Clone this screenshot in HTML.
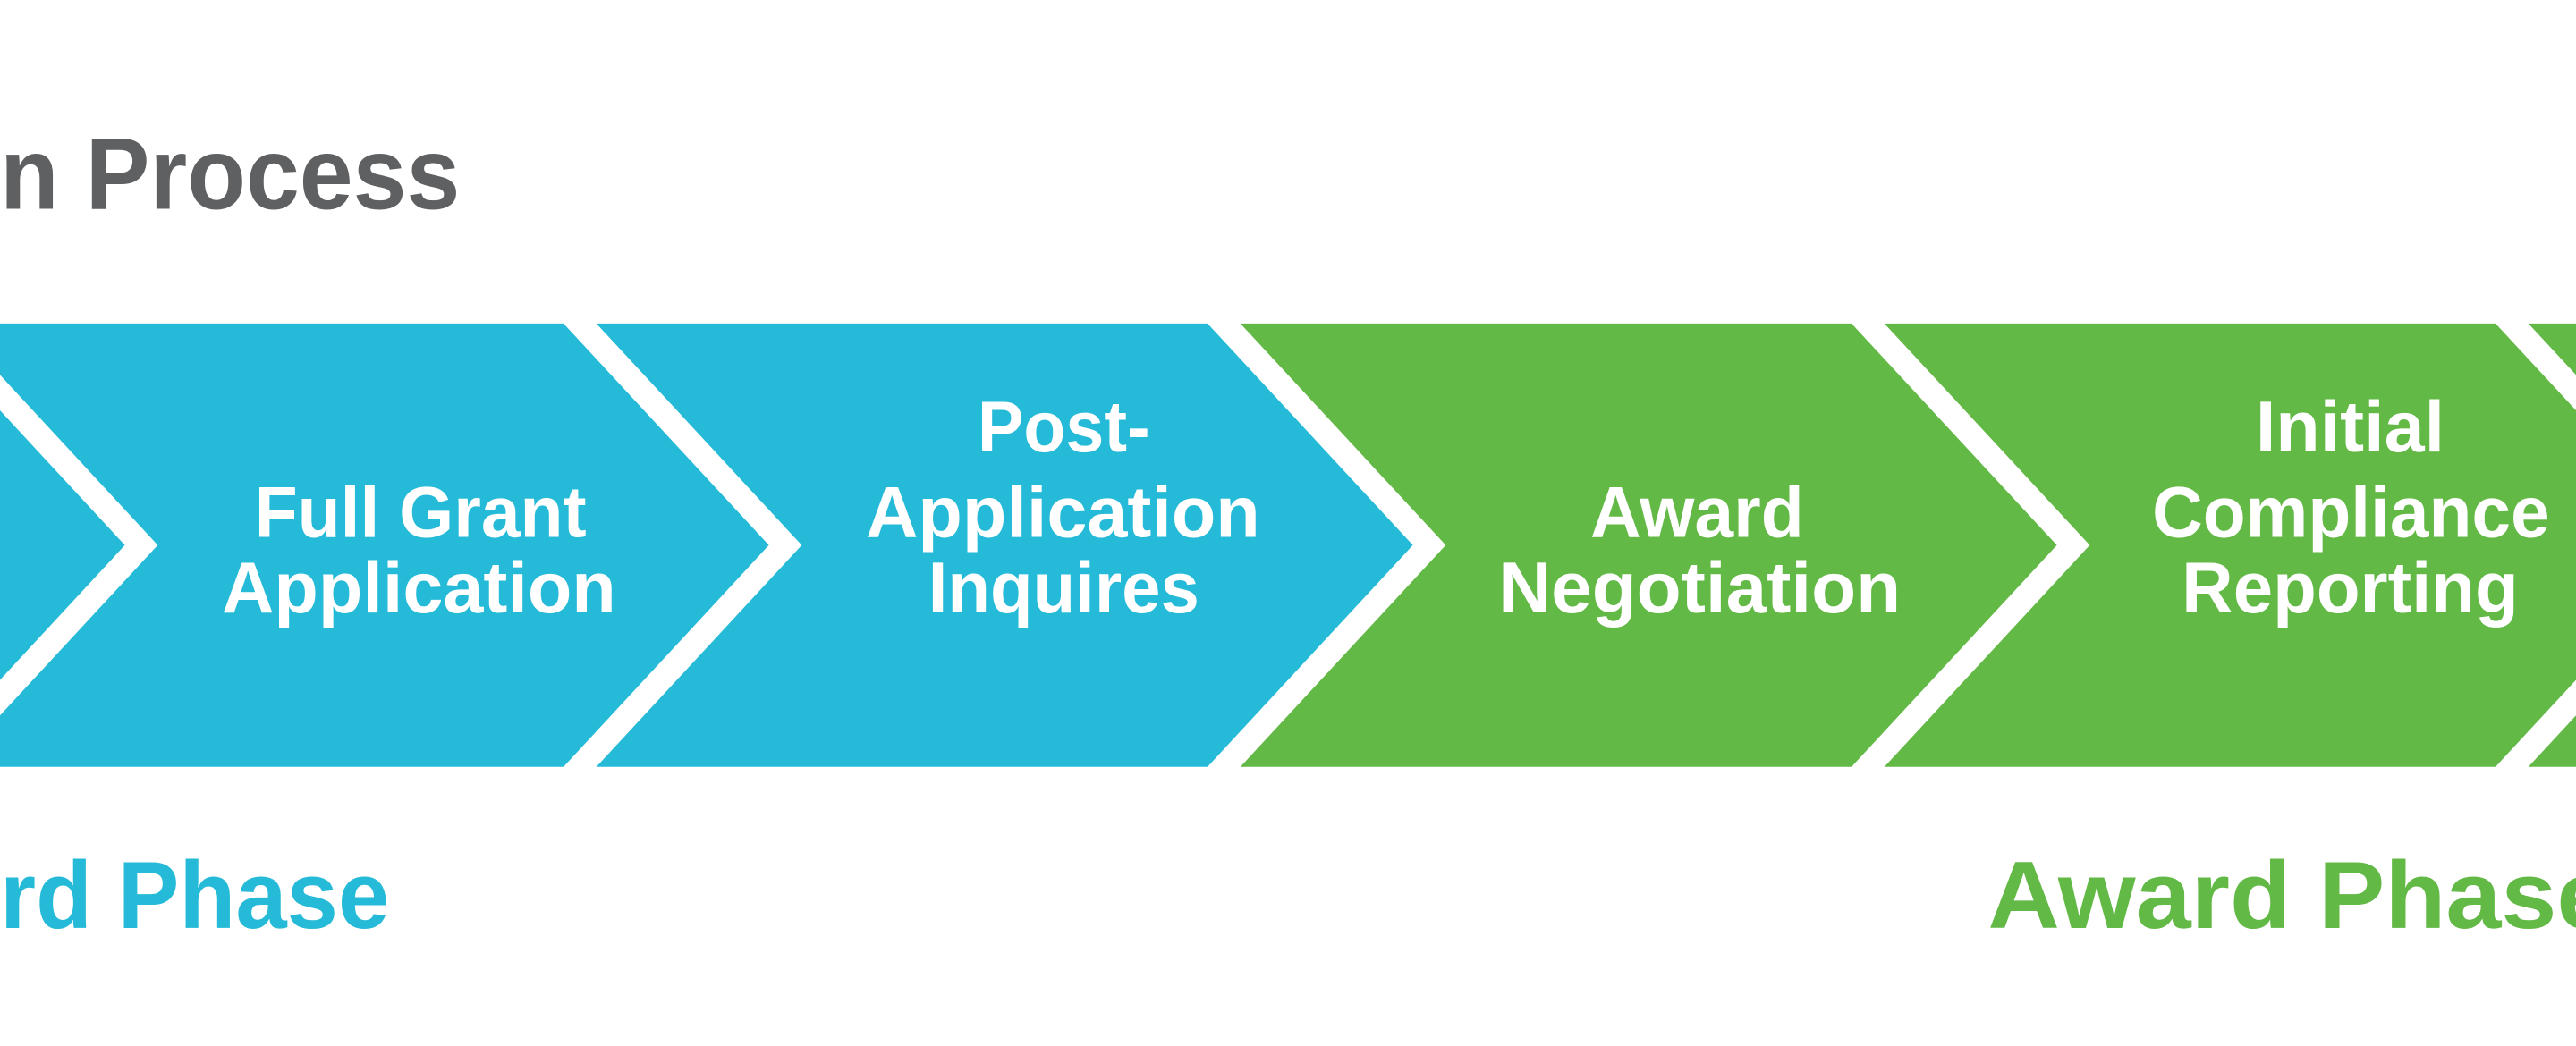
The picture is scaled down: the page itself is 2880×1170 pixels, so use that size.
<!DOCTYPE html>
<html><head><meta charset="utf-8"><style>
html,body{margin:0;padding:0;background:#fff;}
svg{display:block;}
text{font-family:"Liberation Sans",sans-serif;font-weight:bold;}
</style></head><body>
<svg width="2880" height="1170" viewBox="0 0 1568 637" preserveAspectRatio="none" xmlns="http://www.w3.org/2000/svg">
<rect width="1568" height="637" fill="#fff"/>
<!-- chevrons: top-left L, top-right L+372, tip L+497, notch L+125 -->
<polygon points="-421,197 -49,197 76,332 -49,467 -421,467 -296,332" fill="#25BAD7"/>
<polygon points="-29,197 343,197 468,332 343,467 -29,467 96,332" fill="#25BAD7"/>
<polygon points="363,197 735,197 860,332 735,467 363,467 488,332" fill="#25BAD7"/>
<polygon points="755,197 1127,197 1252,332 1127,467 755,467 880,332" fill="#63B946"/>
<polygon points="1147,197 1519,197 1644,332 1519,467 1147,467 1272,332" fill="#63B946"/>
<polygon points="1539,197 1911,197 2036,332 1911,467 1539,467 1664,332" fill="#63B946"/>

<text x="0" y="127" font-size="62" fill="#5f6062" textLength="280" lengthAdjust="spacingAndGlyphs">n Process</text>

<g fill="#fff" font-size="44">
<text x="155" y="327" textLength="202" lengthAdjust="spacingAndGlyphs">Full Grant</text>
<text x="135" y="373" textLength="240" lengthAdjust="spacingAndGlyphs">Application</text>
<text x="595" y="275" textLength="105" lengthAdjust="spacingAndGlyphs">Post-</text>
<text x="527" y="327" textLength="240" lengthAdjust="spacingAndGlyphs">Application</text>
<text x="565" y="373" textLength="165" lengthAdjust="spacingAndGlyphs">Inquires</text>
<text x="968" y="327" textLength="130" lengthAdjust="spacingAndGlyphs">Award</text>
<text x="912" y="373" textLength="245" lengthAdjust="spacingAndGlyphs">Negotiation</text>
<text x="1373" y="275" textLength="115" lengthAdjust="spacingAndGlyphs">Initial</text>
<text x="1310" y="327" textLength="242" lengthAdjust="spacingAndGlyphs">Compliance</text>
<text x="1328" y="373" textLength="205" lengthAdjust="spacingAndGlyphs">Reporting</text>
</g>

<text x="0" y="565" font-size="58" fill="#25BAD7" textLength="237" lengthAdjust="spacingAndGlyphs">rd Phase</text>
<text x="1210" y="565" font-size="58" fill="#63B946" textLength="380" lengthAdjust="spacingAndGlyphs">Award Phase</text>
</svg>
</body></html>
